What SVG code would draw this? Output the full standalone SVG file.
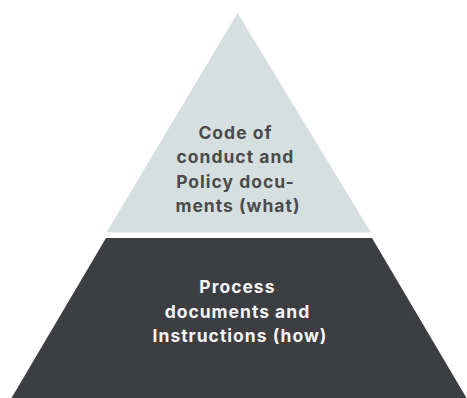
<svg xmlns="http://www.w3.org/2000/svg" width="467" height="398" viewBox="0 0 467 398">
  <style>
    .label { font-family: Inter, "Open Sans", "Liberation Sans", sans-serif; font-weight: 700; font-size: 17.5px; letter-spacing: 1px; text-anchor: middle; }
    .top-tier { fill: #d6dfdf; }
    .base-tier { fill: #3d3e42; }
    .top-text { fill: #4b4b4d; }
    .base-text { fill: #f4f4f4; }
  </style>
  <rect width="467" height="398" fill="#ffffff"/>
  <!-- upper tier: principles -->
  <g id="tier-what">
    <polygon class="top-tier" points="237.5,13 371,232.5 106.5,232.5"/>
    <text class="label top-text">
      <tspan x="238" y="138.5">Code of</tspan>
      <tspan x="238" y="163">conduct and</tspan>
      <tspan x="238" y="187.5">Policy docu-</tspan>
      <tspan x="238" y="212">ments (what)</tspan>
    </text>
  </g>
  <!-- lower tier: procedures -->
  <g id="tier-how">
    <polygon class="base-tier" points="106,238 372,238 466.5,398 11.5,398"/>
    <text class="label base-text">
      <tspan x="240" y="293">Process</tspan>
      <tspan x="240" y="317.5">documents and</tspan>
      <tspan x="240" y="342">Instructions (how)</tspan>
    </text>
  </g>
  <g id="connectors"/>
</svg>
